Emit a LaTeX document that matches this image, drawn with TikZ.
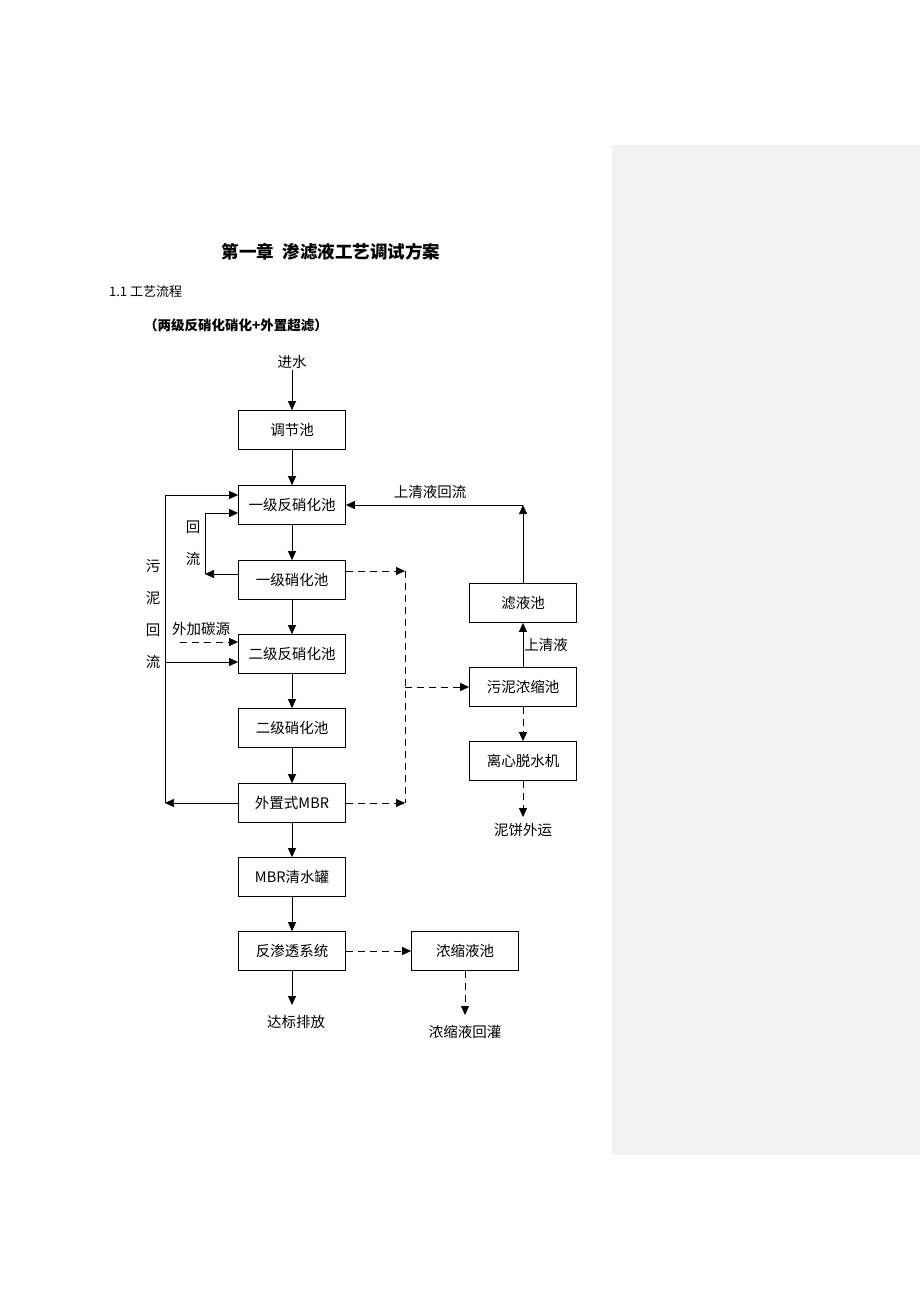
\documentclass[tikz,border=0pt]{standalone}
\usepackage{fontspec}
\newfontfamily\cjk{Noto Sans CJK SC}
\usetikzlibrary{arrows.meta}
\tikzset{every picture/.style={line width=0.75pt},
  box/.style={draw,minimum width=107pt,minimum height=39pt,inner sep=0pt,font=\cjk\fontsize{14.5}{16}\selectfont},
  lbl/.style={inner sep=0.75pt,font=\cjk\fontsize{14.5}{16}\selectfont},
  arr/.style={-{Triangle[length=9pt,width=8pt]}},
  dsh/.style={dash pattern=on 7pt off 5pt}}

\begin{document}
\begin{tikzpicture}[x=1pt,y=1pt,yscale=-1,xscale=1]
	\useasboundingbox (0,0) rectangle (920,1302);
	%Shape: side panel
	\fill[fill={rgb,255:red,242;green,242;blue,242}] (612,145) rectangle (920,1155);
	
	% Title and heading
	\node (title) at (331,252) [lbl,font=\cjk\bfseries\fontsize{17.5}{19}\selectfont] {第一章\ \ 渗滤液工艺调试方案};
	\node (sec) at (108,292) [lbl,anchor=west,font=\cjk\fontsize{13}{15}\selectfont] {1.1\ 工艺流程};
	\node (sub) at (236,325) [lbl,font=\cjk\bfseries\fontsize{13.5}{15}\selectfont] {（两级反硝化硝化+外置超滤）};
	
	% Boxes
	\node (tj) at (292,430) [box] {调节池};
	\node (fx1) at (292,505) [box] {一级反硝化池};
	\node (xh1) at (292,580) [box] {一级硝化池};
	\node (fx2) at (292,654) [box] {二级反硝化池};
	\node (xh2) at (292,728) [box] {二级硝化池};
	\node (mbr) at (292,803) [box] {外置式MBR};
	\node (qs) at (292,877) [box] {MBR清水罐};
	\node (ro) at (292,951) [box] {反渗透系统};
	\node (ns) at (465,951) [box] {浓缩液池};
	\node (ly) at (523,603) [box] {滤液池};
	\node (wn) at (523,687) [box] {污泥浓缩池};
	\node (lx) at (523,761) [box] {离心脱水机};
	
	% Text Node
	\node (in) at (292,362) [lbl] {进水};
	\node (out) at (296,1022) [lbl] {达标排放};
	\node (hg) at (465,1032) [lbl] {浓缩液回灌};
	\node (nb) at (523,830) [lbl] {泥饼外运};
	\node (sqhl) at (430,492) [lbl] {上清液回流};
	\node (sq) at (546,645) [lbl] {上清液};
	\node (tan) at (201,629) [lbl] {外加碳源};
	\node (hl) at (193,543) [lbl,align=center,font=\cjk\fontsize{14.5}{32}\selectfont] {回\\流};
	\node (wnhl) at (153,614) [lbl,align=center,font=\cjk\fontsize{14.5}{32}\selectfont] {污\\泥\\回\\流};
	
	% Coordinates
	\coordinate (a1) at (292,1005);
	\coordinate (a2) at (465,1015);
	\coordinate (a3) at (523,817);
	\coordinate (l1) at (165,803);
	\coordinate (l2) at (165,495);
	\coordinate (l3) at (165,662);
	\coordinate (r1) at (205,574);
	\coordinate (r2) at (205,513);
	\coordinate (t1) at (180,642);
	\coordinate (u1) at (523,505);
	\coordinate (d1) at (405,571);
	\coordinate (d2) at (405,803);
	\coordinate (d3) at (405,687);
	
	% Main line
	\draw[arr] (in) -- (tj);
	\draw[arr] (tj) -- (fx1);
	\draw[arr] (fx1) -- (xh1);
	\draw[arr] (xh1) -- (fx2);
	\draw[arr] (fx2) -- (xh2);
	\draw[arr] (xh2) -- (mbr);
	\draw[arr] (mbr) -- (qs);
	\draw[arr] (qs) -- (ro);
	\draw[arr] (ro) -- (a1);
	
	% Sludge return
	\draw[arr] (mbr.west) -- (l1);
	\draw[arr] (l1) -- (l2) -- (fx1.west |- l2);
	\draw[arr] (l3) -- (fx2.west |- l3);
	% Return
	\draw[arr] (xh1.west |- r1) -- (r1);
	\draw[arr] (r1) -- (r2) -- (fx1.west |- r2);
	% Carbon source
	\draw[arr,dsh] (t1) -- (fx2.west |- t1);
	
	% Supernatant
	\draw[arr] (ly) -- (u1);
	\draw[arr] (u1) -- (fx1.east);
	\draw[arr] (wn) -- (ly);
	
	% Dashed sludge lines
	\draw[arr,dsh] (xh1.east |- d1) -- (d1);
	\draw[arr,dsh] (mbr.east) -- (d2);
	\draw[dsh] (d1) -- (d2);
	\draw[arr,dsh] (d3) -- (wn);
	\draw[arr,dsh] (wn) -- (lx);
	\draw[arr,dsh] (lx) -- (a3);
	\draw[arr,dsh] (ro) -- (ns);
	\draw[arr,dsh] (ns) -- (a2);
\end{tikzpicture}
\end{document}
